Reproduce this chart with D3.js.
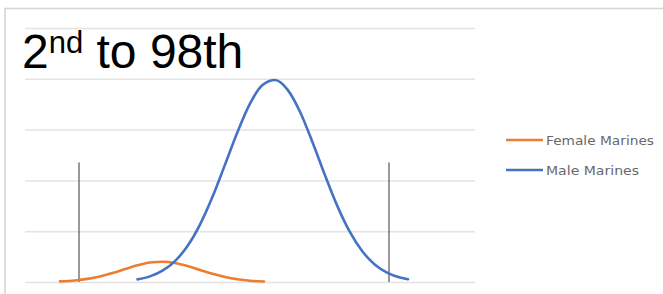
<!DOCTYPE html>
<html>
<head>
<meta charset="utf-8">
<script src="https://cdn.jsdelivr.net/npm/d3@7"></script>
<style>
  body { margin: 0; background: #fff; }
</style>
</head>
<body>
<div class="canvas"></div>
<script>
// values (x in arbitrary units, y in gridline units)
const femaleX = [7, 10, 12.5, 15, 17.5, 20, 22.5, 25, 27.5, 30, 32.5, 35, 37.5, 40, 42.5, 45, 47.8];
const femaleY = [0.012, 0.031, 0.062, 0.110, 0.177, 0.255, 0.330, 0.384, 0.400, 0.374, 0.314, 0.236, 0.160, 0.097, 0.053, 0.026, 0.010];

const maleX = [22.5, 25, 27.5, 30, 32.5, 35, 37.5, 40, 42.5, 45, 47.5, 50, 52.5, 55, 57.5, 60, 62.5, 65, 67.5, 70, 72.5, 75, 76.6];
const maleY = [0.052, 0.111, 0.222, 0.412, 0.707, 1.130, 1.676, 2.310, 2.954, 3.512, 3.877, 3.976, 3.787, 3.351, 2.752, 2.101, 1.489, 0.980, 0.599, 0.341, 0.180, 0.088, 0.055];

// 2nd and 98th percentile markers
const markerX = [10.8, 72.8];
const markerTop = 2.35;

const yTicks = [0, 1, 2, 3, 4, 5];
const seriesNames = ['Female Marines', 'Male Marines'];
const seriesColors = ['#ED7D31', '#4472C4'];

const width = 663;
const height = 294;
const margin = { top: 28, left: 25, right: 187, bottom: 12 };

const svg = d3.select('.canvas')
  .append('svg')
  .attr('width', width)
  .attr('height', height);

svg.append('rect')
  .attr('width', width)
  .attr('height', height)
  .attr('fill', '#fff');

// frame (right and bottom edges are cut off in the picture)
svg.append('rect')
  .attr('x', 5)
  .attr('y', 8.5)
  .attr('width', width + 20)
  .attr('height', height + 20)
  .attr('fill', 'none')
  .attr('stroke', '#d6d6d6')
  .attr('stroke-width', 1.6);

const x = d3.scaleLinear()
  .domain([0, 90])
  .range([margin.left, width - margin.right - 1]);

const y = d3.scaleLinear()
  .domain([0, 5])
  .range([height - margin.bottom, margin.top]);

// gridlines
const grid = svg.append('g')
  .attr('transform', `translate(${margin.left}, 0)`)
  .call(d3.axisLeft(y)
    .tickValues(yTicks)
    .tickSize(-(x.range()[1] - margin.left))
    .tickFormat(''));

grid.select('.domain').remove();
grid.selectAll('.tick line')
  .attr('stroke', '#e3e3e3')
  .attr('stroke-width', 1.5);

// percentile markers
svg.selectAll('line.marker')
  .data(markerX)
  .enter()
  .append('line')
    .attr('class', 'marker')
    .attr('x1', d => x(d))
    .attr('x2', d => x(d))
    .attr('y1', y(markerTop))
    .attr('y2', y(0))
    .attr('stroke', '#555')
    .attr('stroke-width', 1.2);

const line = d3.line()
  .x(d => x(d[0]))
  .y(d => y(d[1]))
  .curve(d3.curveMonotoneX);

const series = [
  d3.zip(femaleX, femaleY),
  d3.zip(maleX, maleY)
];

svg.selectAll('path.series')
  .data(series)
  .enter()
  .append('path')
    .attr('class', 'series')
    .attr('d', line)
    .attr('fill', 'none')
    .attr('stroke', (d, i) => seriesColors[i])
    .attr('stroke-width', 2.6)
    .attr('stroke-linecap', 'round');

// title
const title = svg.append('text')
  .attr('x', 22)
  .attr('y', 68)
  .attr('font-family', 'Liberation Sans, Arial, sans-serif')
  .attr('font-size', 48)
  .attr('fill', '#000');

title.append('tspan').text('2');
title.append('tspan')
  .attr('font-size', 31)
  .attr('dy', -15)
  .text('nd');
title.append('tspan')
  .attr('dy', 15)
  .text(' to 98th');

// legend
const legendWidths = [108, 93];

const legend = svg.selectAll('g.legend')
  .data(seriesNames)
  .enter()
  .append('g')
    .attr('class', 'legend')
    .attr('transform', (d, i) => `translate(506, ${140 + i * 30})`);

legend.append('line')
  .attr('x1', 0)
  .attr('x2', 37)
  .attr('stroke', (d, i) => seriesColors[i])
  .attr('stroke-width', 2.6);

legend.append('text')
  .text(d => d)
  .attr('x', 40)
  .attr('y', 4.5)
  .attr('textLength', (d, i) => legendWidths[i])
  .attr('lengthAdjust', 'spacingAndGlyphs')
  .attr('font-family', 'DejaVu Sans, sans-serif')
  .attr('font-size', 13)
  .attr('fill', '#686868');
</script>
</body>
</html>
